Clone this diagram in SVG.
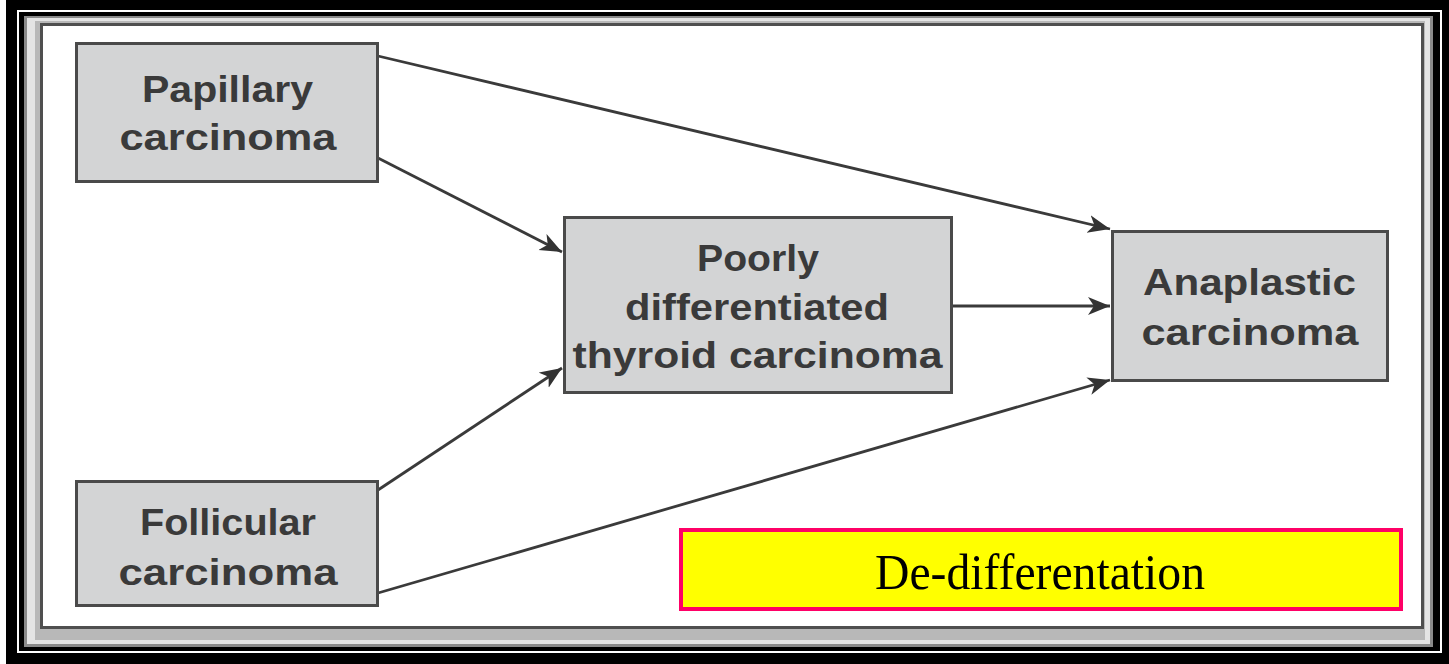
<svg xmlns="http://www.w3.org/2000/svg" width="1449" height="664" viewBox="0 0 1449 664">
<style>
.box{fill:#d3d4d5;stroke:#4a4a4a;stroke-width:3}
.lbl{font-family:"Liberation Sans",Arial,sans-serif;font-weight:bold;font-size:36px;fill:#3a3a3a;text-anchor:middle}
.conn{stroke:#3a3a3a;stroke-width:2.8;fill:none;marker-end:url(#ah)}
</style>
<defs>
<marker id="ah" markerUnits="userSpaceOnUse" markerWidth="24" markerHeight="20" refX="22" refY="9" orient="auto">
<path d="M0,0 L22,9 L0,18 L6,9 z" fill="#333333"/>
</marker>
</defs>
<g id="frame">
<rect x="0" y="0" width="1449" height="664" fill="#ffffff"/>
<rect x="6" y="0" width="1443" height="664" fill="#000000"/>
<rect x="18" y="11" width="1423" height="641" fill="none" stroke="#ffffff" stroke-width="2"/>
<rect x="24" y="16" width="1409" height="631" fill="#8a8a8a"/>
<rect x="27" y="18" width="1403" height="626" fill="#e4e4e4"/>
<rect x="35" y="21" width="1390" height="619" fill="#b8b8b8"/>
<rect x="41.5" y="24.5" width="1381" height="603" fill="#ffffff" stroke="#4f4f4f" stroke-width="3"/>
</g>
<g id="connectors">
<line class="conn" x1="378" y1="56" x2="1110" y2="229"/>
<line class="conn" x1="378" y1="158" x2="562" y2="252"/>
<line class="conn" x1="378" y1="490" x2="562" y2="368"/>
<line class="conn" x1="378" y1="593" x2="1110" y2="380"/>
<line class="conn" x1="952" y1="306" x2="1110" y2="306"/>
</g>
<g id="papillary">
<rect class="box" x="76.5" y="43.5" width="301" height="138"/>
<text class="lbl" x="227.5" y="102" textLength="171" lengthAdjust="spacingAndGlyphs">Papillary</text>
<text class="lbl" x="228" y="150" textLength="217" lengthAdjust="spacingAndGlyphs">carcinoma</text>
</g>
<g id="follicular">
<rect class="box" x="76.5" y="481.5" width="301" height="124"/>
<text class="lbl" x="228" y="535" textLength="176" lengthAdjust="spacingAndGlyphs">Follicular</text>
<text class="lbl" x="228" y="585" textLength="219" lengthAdjust="spacingAndGlyphs">carcinoma</text>
</g>
<g id="poorly">
<rect class="box" x="564.5" y="217.5" width="387" height="175"/>
<text class="lbl" x="758" y="271" textLength="122" lengthAdjust="spacingAndGlyphs">Poorly</text>
<text class="lbl" x="757" y="320" textLength="264" lengthAdjust="spacingAndGlyphs">differentiated</text>
<text class="lbl" x="757.5" y="368" textLength="370" lengthAdjust="spacingAndGlyphs">thyroid carcinoma</text>
</g>
<g id="anaplastic">
<rect class="box" x="1112.5" y="231.5" width="275" height="149"/>
<text class="lbl" x="1249.5" y="295" textLength="213" lengthAdjust="spacingAndGlyphs">Anaplastic</text>
<text class="lbl" x="1250" y="345" textLength="217" lengthAdjust="spacingAndGlyphs">carcinoma</text>
</g>
<g id="dedifferentiation">
<rect x="681" y="530" width="720" height="79" fill="#ffff00" stroke="#ff0066" stroke-width="4"/>
<text x="1040" y="589" font-family="'Liberation Serif','Times New Roman',serif" font-size="50" fill="#000000" text-anchor="middle" textLength="330" lengthAdjust="spacingAndGlyphs">De-differentation</text>
</g>
</svg>
